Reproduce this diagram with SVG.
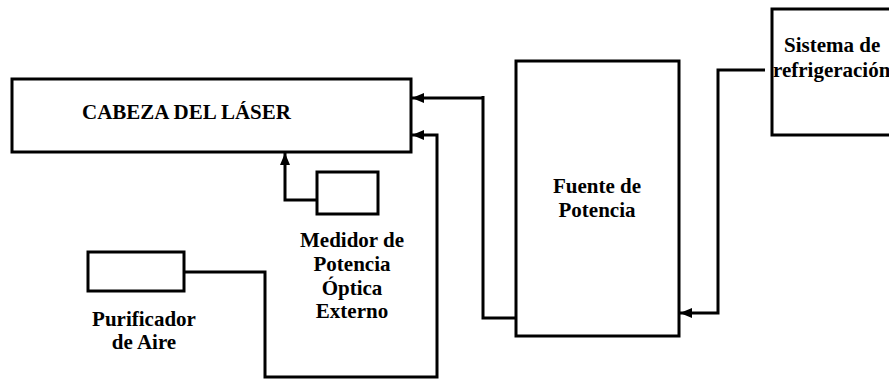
<svg xmlns="http://www.w3.org/2000/svg" width="889" height="379" viewBox="0 0 889 379">
<style>
.box{fill:#fff;stroke:#000;stroke-width:3}
.con{fill:none;stroke:#000;stroke-width:3}
text{font-family:'Liberation Serif','DejaVu Serif',serif;font-weight:bold;font-size:21px;fill:#000}
.c{text-anchor:middle}
</style>
<defs>
<marker id="ah" viewBox="0 0 12 10" refX="12" refY="5" markerWidth="12" markerHeight="10" markerUnits="userSpaceOnUse" orient="auto">
<path d="M0,0 L12,5 L0,10 Z" fill="#000"/>
</marker>
</defs>
<rect width="889" height="379" fill="#fff"/>
<g id="laser">
<rect class="box" x="12" y="79" width="399" height="73"/>
<text x="82" y="119" font-family="Liberation Serif, serif">CABEZA DEL LÁSER</text>
</g>
<g id="medidor">
<rect class="box" x="317" y="172" width="61" height="42"/>
<text class="c" x="352" y="247">Medidor de</text>
<text class="c" x="352" y="271">Potencia</text>
<text class="c" x="352" y="295">Óptica</text>
<text class="c" x="352" y="318">Externo</text>
</g>
<g id="purificador">
<rect class="box" x="88" y="252" width="96" height="39"/>
<text class="c" x="144" y="326">Purificador</text>
<text class="c" x="144" y="349">de Aire</text>
</g>
<g id="fuente">
<rect class="box" x="516" y="61" width="163" height="275"/>
<text class="c" x="597" y="193">Fuente de</text>
<text class="c" x="597" y="217">Potencia</text>
</g>
<g id="sistema">
<rect class="box" x="772" y="9" width="130" height="126"/>
<text x="784" y="52">Sistema de</text>
<text x="773" y="77">refrigeración</text>
</g>
<g id="connectors">
<path class="con" d="M516,318 H483 V96 M483,98 H412" marker-end="url(#ah)"/>
<path class="con" d="M184,272 H265 V377 H437 V135 H412" marker-end="url(#ah)"/>
<path class="con" d="M317,200 H285 V153" marker-end="url(#ah)"/>
<path class="con" d="M765,70 H718 V313 H680" marker-end="url(#ah)"/>
</g>
</svg>
